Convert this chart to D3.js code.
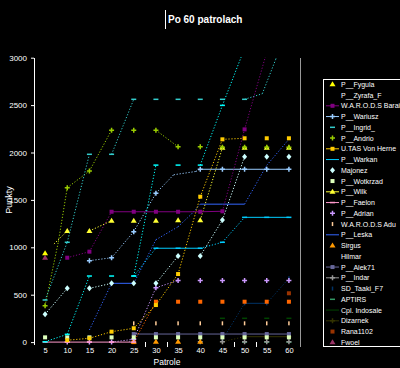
<!DOCTYPE html>
<html><head><meta charset="utf-8">
<script src="https://cdn.jsdelivr.net/npm/d3@7"></script>
<style>html,body{margin:0;padding:0;background:#000;}svg{display:block;}</style>
</head><body>
<svg id="c" width="400" height="368"></svg>
<script>
// ---------- data ----------
const titleText = "Po 60 patrolach";
const xLabel = "Patrole";
const yLabel = "Punkty";
const xTicks = [5,10,15,20,25,30,35,40,45,50,55,60];
const yTicks = [0,500,1000,1500,2000,2500,3000];
const minorTicks = [27.5,32.5,47.5,52.5];

const seriesNames = ["P__Fygula","P__Zyrafa_F","W.A.R.O.D.S Barai","P__Wariusz","P__Ingrid_","P__Andrio",
  "U.TAS Von Herne","P__Warkan","Majonez","P__Wotkrzad","P__Wilk","P__Faelon","P__Adrian",
  "W.A.R.O.D.S Adu","P__Leska","Sirgus","Hilmar","P__Alek71","P__Indar","SD_Taaki_F7","APTIRS",
  "Cpl. Indosale","Dizarnek","Rana1102","Fwoel"];

// [patrol, points]
const vFygula   = [[5,937]];
const vZyrafa   = [[5,4],[10,82],[15,697],[20,697],[25,697],[30,1867],[35,1867],[40,1867],[45,2497],[50,3100],[55,3700],[60,4200]];
const vBarai    = [[10,890],[15,954],[20,1375],[25,1375],[30,1375],[35,1375],[40,1375],[45,1380],[50,2244],[55,3060],[60,3700]];
const vWariusz  = [[15,859],[20,890],[25,1165],[30,1570],[34,1765],[39,1800],[40,1823],[45,1823],[50,1823],[55,1823],[60,1823]];
const vIngrid   = [[5,444],[10,1053],[15,1981],[20,1981],[25,2561],[30,2561],[35,2561],[40,2561],[45,2561],[50,2561],[54,2620],[57,2980],[60,3400]];
const vAndrio   = [[5,384],[8,1059],[10,1629],[15,1805],[20,2236],[25,2236],[30,2236],[35,2060],[40,2060],[45,2055],[50,2055],[55,2055],[60,2055]];
const vUtas     = [[10,20],[15,40],[20,110],[25,146],[30,391],[35,718],[40,1534],[45,2139],[50,2150],[55,2150],[60,2150]];
const vWarkan   = [[25,697],[30,990],[35,990],[40,990],[45,1053],[50,1316],[55,1316],[60,1316]];
const vMajonez  = [[5,293],[10,567],[15,567],[20,620],[25,620],[30,620],[35,908],[40,908],[45,1287],[50,1956],[55,1956],[60,1956]];
const vWotkrzad = [[5,50],[10,50],[15,50],[20,50],[25,50],[30,50],[35,50],[40,50],[45,50],[50,50],[55,50],[60,50]];
const vWilk     = [[7,1035],[10,1172],[15,1172],[20,1281],[25,1281],[30,1281],[35,1285],[40,1285],[45,2050],[50,2050],[55,2050],[60,2050]];
const vFaelon   = [[5,0],[10,0],[15,0],[20,0],[25,0]];
const vAdrian   = [[10,0],[15,0],[20,0],[25,30],[30,574],[35,650],[40,650],[45,650],[50,650],[55,650],[60,650]];
const vWarodsAdu= [[25,198],[30,198],[35,198],[40,198],[45,198],[50,198],[55,198],[60,198]];
const vLeska    = [[15,128],[20,620],[25,620],[30,1080],[35,1217],[38,1350],[40,1455],[45,1455],[50,1455],[55,1865],[60,2140]];
const vSirgus   = [[25,5],[30,5],[35,5],[40,5]];
const vHilmar   = [[25,0],[30,426],[35,426],[40,426],[45,426],[50,426],[55,426],[60,426]];
const vAlek     = [[24,0],[25,85],[30,85],[35,85],[40,85],[45,85],[50,85],[55,85],[60,85]];
const vIndar    = [[40,3],[45,3],[50,3],[55,3],[60,3]];
const vSdTaaki  = [[45,22],[50,409],[55,409],[60,673]];
const vAptirs   = [[50,0],[55,0],[60,0]];
const vIndosale = [[45,251],[50,251],[55,251],[60,251]];
const vDizarnek = [[45,4],[50,57],[55,57],[60,57]];
const vRana     = [[60,515]];
const vFwoel    = [[5,890]];

const seriesValues = [vFygula,vZyrafa,vBarai,vWariusz,vIngrid,vAndrio,vUtas,vWarkan,vMajonez,vWotkrzad,
  vWilk,vFaelon,vAdrian,vWarodsAdu,vLeska,vSirgus,vHilmar,vAlek,vIndar,vSdTaaki,vAptirs,vIndosale,
  vDizarnek,vRana,vFwoel];

// ---------- styles ----------
const seriesColors = ["#ffff00","#00ffff","#800080","#99ccff","#33cccc","#99cc00","#ffcc00","#00ccff",
  "#ccffff","#ddffbb","#ffff33","#ff99cc","#cc99ff","#ffcc99","#3366ff","#ff9900","#ff6600","#666699",
  "#969696","#003366","#339966","#004400","#333300","#993300","#993366"];
const chartMarker = ["triangle","dash","square","plus","dash","plus","square","dash","diamond","square",
  "triangle","dash","plus","tick","none","triangle","square","square","plus","tick","dash","dash","plus","square","triangle"];
const legendMarker = ["triangle","none","square","plus","dash","plus","square","none","diamond","square",
  "triangle","dash","plus","tick","none","triangle","none","square","plus","tick","dash","none","plus","square","triangle"];
const flatStyle = ["none","none","solid","solid","none","none","none","solid","none","none",
  "none","solid","none","none","solid","none","none","solid","none","solid","none","none","solid","none","none"];
const legendLine = [false,false,true,true,false,false,true,true,false,false,true,true,false,false,true,
  false,false,true,true,false,false,true,true,false,false];

// ---------- drawing ----------
const svg = d3.select("#c");
const W = 400, H = 368;
svg.append("rect").attr("width",W).attr("height",H).attr("fill","#000");
const font = "'Liberation Sans', Arial, sans-serif";

const x = d3.scaleLinear().domain([2.5, 62.5]).range([34, 300]);
const y = d3.scaleLinear().domain([0, 3000]).range([342.1, 57.7]);

// title
svg.append("line").attr("x1",165.5).attr("x2",165.5).attr("y1",10).attr("y2",29)
  .attr("stroke","#fff").attr("stroke-width",1);
svg.append("text").attr("x",168).attr("y",23).attr("fill","#fff")
  .attr("font-family",font).attr("font-size",10).attr("font-weight","bold").text(titleText);

// y axis
const yAxis = svg.append("g").attr("transform","translate(34,0)")
  .call(d3.axisLeft(y).tickValues(yTicks).tickSize(3).tickSizeOuter(0).tickPadding(4).tickFormat(d3.format("d")));
yAxis.select(".domain").remove();
yAxis.selectAll("line").attr("stroke","#fff");
yAxis.selectAll("text").attr("fill","#fff").attr("font-family",font).attr("font-size",8);
svg.append("line").attr("x1",34.5).attr("x2",34.5).attr("y1",58).attr("y2",345)
  .attr("stroke","#fff").attr("stroke-width",1);

// right frame
svg.append("line").attr("x1",300.5).attr("x2",300.5).attr("y1",58).attr("y2",347)
  .attr("stroke","#999").attr("stroke-width",1);

// x axis labels
const xAxis = svg.append("g").attr("transform","translate(0,342)")
  .call(d3.axisBottom(x).tickValues(xTicks).tickSize(0).tickPadding(6).tickFormat(d3.format("d")));
xAxis.select(".domain").remove();
xAxis.selectAll("text").attr("fill","#fff").attr("font-family",font).attr("font-size",7.5);

svg.selectAll(".minor").data(minorTicks).enter().append("line")
  .attr("x1",d=>Math.round(x(d))+0.5).attr("x2",d=>Math.round(x(d))+0.5)
  .attr("y1",342).attr("y2",347).attr("stroke","#fff");

// axis titles
svg.append("text").attr("x",167).attr("y",364.5).attr("text-anchor","middle").attr("fill","#fff")
  .attr("font-family",font).attr("font-size",8.5).text(xLabel);
svg.append("text").attr("transform","translate(12,200) rotate(-90)").attr("text-anchor","middle")
  .attr("fill","#fff").attr("font-family",font).attr("font-size",9).text(yLabel);

// clip
svg.append("clipPath").attr("id","plotclip").append("rect")
  .attr("x",35).attr("y",57).attr("width",265).attr("height",292);
const plot = svg.append("g").attr("clip-path","url(#plotclip)");

function marker(g, type, cx, cy, color) {
  if (type === "triangle") {
    g.append("path").attr("d",`M${cx},${cy-3}L${cx+3},${cy+2}L${cx-3},${cy+2}Z`).attr("fill",color);
  } else if (type === "square") {
    g.append("rect").attr("x",cx-2).attr("y",cy-2).attr("width",4).attr("height",4).attr("fill",color);
  } else if (type === "plus") {
    g.append("path").attr("d",`M${cx-2.5},${cy}H${cx+2.5}M${cx},${cy-2.5}V${cy+2.5}`)
      .attr("stroke",color).attr("stroke-width",1.5).attr("fill","none");
  } else if (type === "diamond") {
    g.append("path").attr("d",`M${cx},${cy-3}L${cx+2.5},${cy}L${cx},${cy+3}L${cx-2.5},${cy}Z`).attr("fill",color);
  } else if (type === "dash") {
    g.append("rect").attr("x",cx-2.5).attr("y",cy-0.75).attr("width",5).attr("height",1.5).attr("fill",color);
  } else if (type === "tick") {
    g.append("rect").attr("x",cx-0.75).attr("y",cy-2).attr("width",1.5).attr("height",4).attr("fill",color);
  }
}

const order = d3.range(seriesNames.length).reverse();
order.forEach(i => {
  const pts = seriesValues[i];
  const color = seriesColors[i];
  const g = plot.append("g");
  for (let k = 1; k < pts.length; k++) {
    const x0 = x(pts[k-1][0]), y0 = y(pts[k-1][1]);
    const x1 = x(pts[k][0]), y1 = y(pts[k][1]);
    const flat = Math.abs(y1 - y0) < 1;
    if (flat && flatStyle[i] === "none") continue;
    const seg = g.append("path").attr("d", d3.line()([[x0,y0],[x1,y1]]))
      .attr("stroke", color).attr("stroke-width",1).attr("fill","none");
    if (!flat) seg.attr("stroke-dasharray","1.2,1.8");
  }
  pts.forEach(p => {
    if (p[0] % 5 === 0) marker(g, chartMarker[i], x(p[0]), y(p[1]), color);
  });
});

// legend
const lg = svg.append("g");
lg.append("rect").attr("x",323.5).attr("y",79.5).attr("width",90).attr("height",267)
  .attr("fill","#000").attr("stroke","#fff").attr("stroke-width",1);
seriesNames.forEach((name, i) => {
  const ly = 84.3 + i * 10.75;
  const color = seriesColors[i];
  if (legendLine[i]) {
    lg.append("line").attr("x1",326).attr("x2",339).attr("y1",ly).attr("y2",ly)
      .attr("stroke",color).attr("stroke-width",1);
  }
  marker(lg, legendMarker[i], 332.5, ly, color);
  lg.append("text").attr("x",341).attr("y",ly).attr("dy","0.35em").attr("fill","#fff")
    .attr("font-family",font).attr("font-size",7).text(name);
});
</script>
</body></html>
